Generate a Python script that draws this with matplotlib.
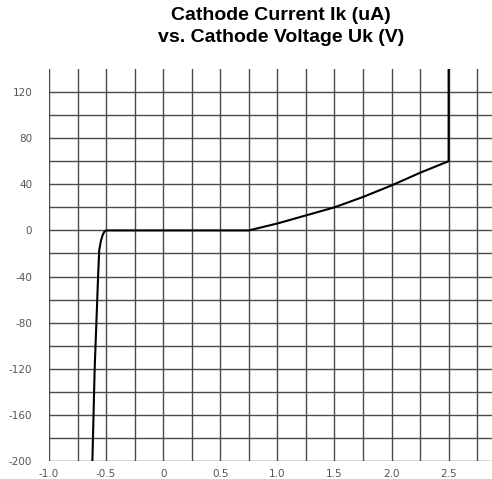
import numpy as np
import matplotlib.pyplot as plt

plt.rcParams['axes.unicode_minus'] = False

# cathode voltage Uk (V) and cathode current Ik (uA)
uk = [-0.62, -0.61, -0.60, -0.585, -0.57, -0.56, -0.545, -0.53, -0.515, -0.5,
      0.75, 1.0, 1.25, 1.5, 1.75, 2.0, 2.25, 2.5, 2.5]
ik = [-200, -160, -120, -80, -40, -17, -9, -4, -1, 0,
      0, 6, 13, 20, 29, 39, 50, 60, 140]

xticks = [-1.0, -0.5, 0, 0.5, 1.0, 1.5, 2.0, 2.5]
xticklabels = ["-1.0", "-0.5", "0", "0.5", "1.0", "1.5", "2.0", "2.5"]
yticks = [-200, -160, -120, -80, -40, 0, 40, 80, 120]

fig = plt.figure(figsize=(4.92, 4.79), dpi=100)
ax = fig.add_axes([49/492, 1 - 461/479, 1 - 49/492, (461 - 69)/479])

# grid every 0.25 V and every 20 uA
for gx in np.arange(-1.0, 2.76, 0.25):
    ax.axvline(gx, color="#4a4a4a", lw=1.0, zorder=1)
for gy in np.arange(-200, 121, 20):
    ax.axhline(gy, color="#4a4a4a", lw=1.0, zorder=1)

ax.plot(uk, ik, color="black", lw=1.5, zorder=3)

ax.set_xlim(-1.0, 2.88)
ax.set_ylim(-200, 140)
for s in ax.spines.values():
    s.set_visible(False)

ax.set_xticks(xticks)
ax.set_xticklabels(xticklabels)
ax.set_yticks(yticks)
ax.tick_params(length=0, labelsize=7.5, labelcolor="#555555")
ax.tick_params(axis="y", pad=12)
ax.tick_params(axis="x", pad=6)

fig.text(281/492, 1 - 15/479, "Cathode Current Ik (uA)", ha="center", va="center",
         fontsize=14, fontweight="bold", family="Liberation Sans")
fig.text(281/492, 1 - 38/479, "vs. Cathode Voltage Uk (V)", ha="center", va="center",
         fontsize=14, fontweight="bold", family="Liberation Sans")

fig.savefig("out.png", dpi=100)
